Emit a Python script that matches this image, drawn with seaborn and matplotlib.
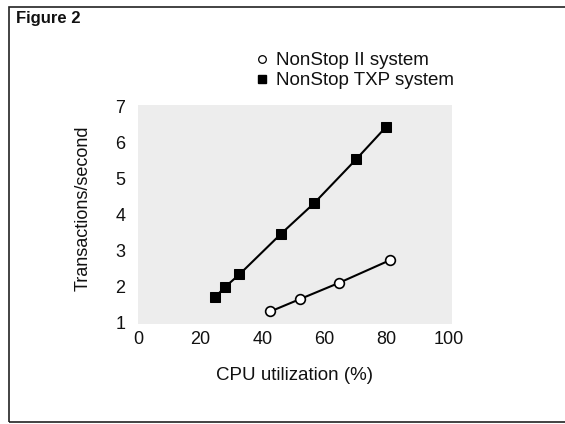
import matplotlib
matplotlib.use("Agg")
import matplotlib.pyplot as plt
from matplotlib.lines import Line2D
from matplotlib.patches import Rectangle
import seaborn as sns
import pandas as pd

sns.set_theme(style="white")
plt.rcParams['font.family'] = ['Liberation Sans', 'DejaVu Sans']

txp_util = [24.7, 28.0, 32.6, 46.1, 56.6, 70.2, 79.9]
txp_tps = [1.69, 1.98, 2.33, 3.47, 4.31, 5.54, 6.45]
ii_util = [42.6, 52.0, 64.5, 81.1]
ii_tps = [1.30, 1.64, 2.09, 2.73]
x_ticks = [0, 20, 40, 60, 80, 100]
y_ticks = [1, 2, 3, 4, 5, 6, 7]
series_names = ["NonStop II system", "NonStop TXP system"]

df_ii = pd.DataFrame({"util": ii_util, "tps": ii_tps})
df_txp = pd.DataFrame({"util": txp_util, "tps": txp_tps})

fig = plt.figure(figsize=(5.65, 4.24), dpi=100)
ax = fig.add_axes([138/565, 100/424, 314/565, 219/424])
ax.set_facecolor("#ededed")

sns.lineplot(data=df_txp, x="util", y="tps", ax=ax, color="black", lw=1.5,
             marker="s", markersize=7, markerfacecolor="black",
             markeredgecolor="black", legend=False)
sns.lineplot(data=df_ii, x="util", y="tps", ax=ax, color="black", lw=1.5,
             marker="o", markersize=7, markerfacecolor="white",
             markeredgecolor="black", markeredgewidth=1.2, legend=False)

ax.set_xlim(0, 101)
ax.set_ylim(0.95, 7.05)
ax.set_xticks(x_ticks)
ax.set_yticks(y_ticks)
ax.tick_params(axis="both", length=0, labelsize=13, colors="#111111")
ax.tick_params(axis="y", pad=9)
ax.tick_params(axis="x", pad=5)
for s in ax.spines.values():
    s.set_visible(False)
ax.set_xlabel("")
ax.set_ylabel("")
fig.text(294/565, 1 - 375/424, "CPU utilization (%)", fontsize=13.5,
         color="#111111", ha="center", va="center")
fig.text(83/565, 1 - 208/424, "Transactions/second", rotation=90, fontsize=13,
         color="#111111", ha="center", va="center")

handles = [
    Line2D([], [], ls="none", marker="o", markersize=5.5, markerfacecolor="white",
           markeredgecolor="black", markeredgewidth=0.9),
    Line2D([], [], ls="none", marker="s", markersize=5.5, markerfacecolor="black",
           markeredgecolor="black"),
]
fig.legend(handles, series_names, loc="upper left",
           bbox_to_anchor=(254/565, 1 - 52/424), frameon=False, fontsize=13.5,
           handletextpad=0.35, handlelength=0.8, labelspacing=0.15,
           borderpad=0, borderaxespad=0, labelcolor="#111111")

fig.text(16/565, 1 - 18/424, "Figure 2", fontsize=12, fontweight="bold",
         ha="left", va="center", color="#111111")

fig.add_artist(Rectangle((9/565, 1 - 422/424), 600/565, 415/424,
                         transform=fig.transFigure, fill=False,
                         edgecolor="#222222", lw=1.2, clip_on=False))

fig.savefig("out.png", dpi=100)
